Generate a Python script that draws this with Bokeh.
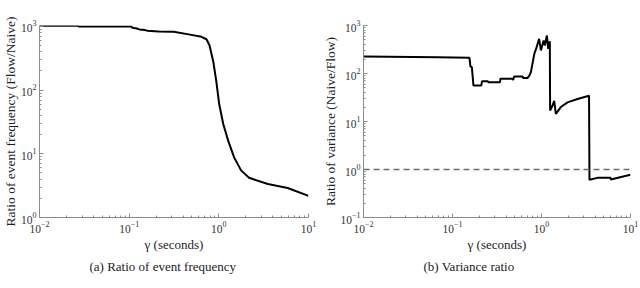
from bokeh.plotting import figure
from bokeh.layouts import row
from bokeh.models import FixedTicker, LogTickFormatter, Span, Title
from bokeh.embed import file_html
from bokeh.resources import INLINE

# ---- data ----
gamma_a = [0.01, 0.027, 0.0275, 0.106, 0.108, 0.122, 0.13, 0.150, 0.16, 0.214,
           0.30, 0.314, 0.46, 0.64, 0.728, 0.786, 0.869, 0.938, 1.01, 1.12,
           1.27, 1.48, 1.77, 2.17, 3.52, 5.86, 10.0]
freq_ratio = [1025, 1025, 995, 995, 955, 930, 900, 877, 860, 837,
              830, 828, 752, 688, 630, 508, 277, 136, 60, 29.4,
              16.1, 8.8, 5.5, 4.2, 3.36, 2.91, 2.19]

gamma_b = [0.01, 0.0687, 0.155, 0.159, 0.165, 0.172, 0.21, 0.215, 0.249, 0.252,
           0.342, 0.345, 0.474, 0.48, 0.494, 0.614, 0.62, 0.698, 0.73, 0.76,
           0.83, 0.88, 0.94, 0.985, 1.056, 1.09, 1.15, 1.19, 1.24, 1.25,
           1.33, 1.39, 1.45, 1.65, 1.96, 2.54, 3.42, 3.46, 4.25, 5.98,
           6.0, 10.0]
var_ratio = [226, 219, 212, 140, 135, 56, 56, 69, 69, 66,
             66, 77.5, 77.5, 73, 87, 87, 81, 81, 90, 107,
             257, 350, 528, 302, 487, 383, 619, 327, 471, 17,
             21.5, 27, 14.4, 20, 25, 29.5, 34.5, 0.61, 0.67, 0.67,
             0.62, 0.78]
ref_level = 1.0

x_major = [0.01, 0.1, 1, 10]
ya_major = [1, 10, 100, 1000]
yb_major = [0.1, 1, 10, 100, 1000]

x_label = "γ (seconds)"
ya_label = "Ratio of event frequency (Flow/Naive)"
yb_label = "Ratio of variance (Naive/Flow)"
cap_a = "(a) Ratio of event frequency"
cap_b = "(b) Variance ratio"

FONT = "Liberation Serif"
AX = "#8a8a8a"
TXT = "#222222"


def minors(majors):
    out = []
    for m in majors[:-1]:
        out += [m * k for k in range(2, 10)]
    return out


def make_fig(W, H, fl, fw, ft, fh, xr, yr, xmaj, ymaj, ylab, ylab_size,
             cap, cap_off):
    p = figure(width=W, height=H, x_axis_type="log", y_axis_type="log",
               x_range=xr, y_range=yr, output_backend="svg",
               toolbar_location=None,
               min_border_left=fl, min_border_right=W - fl - fw,
               min_border_top=ft, min_border_bottom=H - ft - fh)
    p.outline_line_color = None
    p.grid.visible = False
    p.xaxis.ticker = FixedTicker(ticks=xmaj, minor_ticks=minors(xmaj))
    p.yaxis.ticker = FixedTicker(ticks=ymaj, minor_ticks=minors(ymaj))
    for ax in (p.xaxis[0], p.yaxis[0]):
        ax.formatter = LogTickFormatter()
        ax.axis_line_color = AX
        ax.axis_line_width = 1
        ax.major_tick_line_color = AX
        ax.minor_tick_line_color = AX
        ax.major_tick_in = 4
        ax.major_tick_out = 0
        ax.minor_tick_in = 2
        ax.minor_tick_out = 0
        ax.major_label_text_font = FONT
        ax.major_label_text_font_size = "11.5px"
        ax.major_label_text_color = "#333333"
    p.xaxis.major_label_standoff = 3
    p.yaxis.major_label_standoff = 3
    p.xaxis.axis_label = x_label
    p.xaxis.axis_label_text_font = FONT
    p.xaxis.axis_label_text_font_size = "13px"
    p.xaxis.axis_label_text_font_style = "normal"
    p.xaxis.axis_label_text_color = TXT
    p.xaxis.axis_label_standoff = 1
    p.add_layout(Title(text=cap, align="left", offset=cap_off,
                       text_font=FONT, text_font_size="13px",
                       text_font_style="normal", text_color=TXT,
                       standoff=4), "below")
    p.add_layout(Title(text=ylab, align="center",
                       text_font=FONT, text_font_size=ylab_size,
                       text_font_style="normal", text_color=TXT,
                       standoff=0), "left")
    return p


W, H = 320, 288

# left panel
p1 = make_fig(W, H, 37, 271, 23, 195, (0.01, 10), (1, 1036),
              x_major, ya_major, ya_label, "13.5px", cap_a, 50)
p1.line(gamma_a, freq_ratio, line_color="black", line_width=2)

# right panel
p2 = make_fig(W, H, 42, 268, 25, 192, (0.01, 10), (0.1, 1000),
              x_major, yb_major, yb_label, "13.5px", cap_b, 60)
p2.add_layout(Span(location=ref_level, dimension="width", line_color="#6e6e6e",
                   line_width=1.5, line_dash="6 4"))
p2.line(gamma_b, var_ratio, line_color="black", line_width=2)

layout = row(p1, p2, spacing=0)
open("out.html", "w").write(file_html(layout, INLINE))
